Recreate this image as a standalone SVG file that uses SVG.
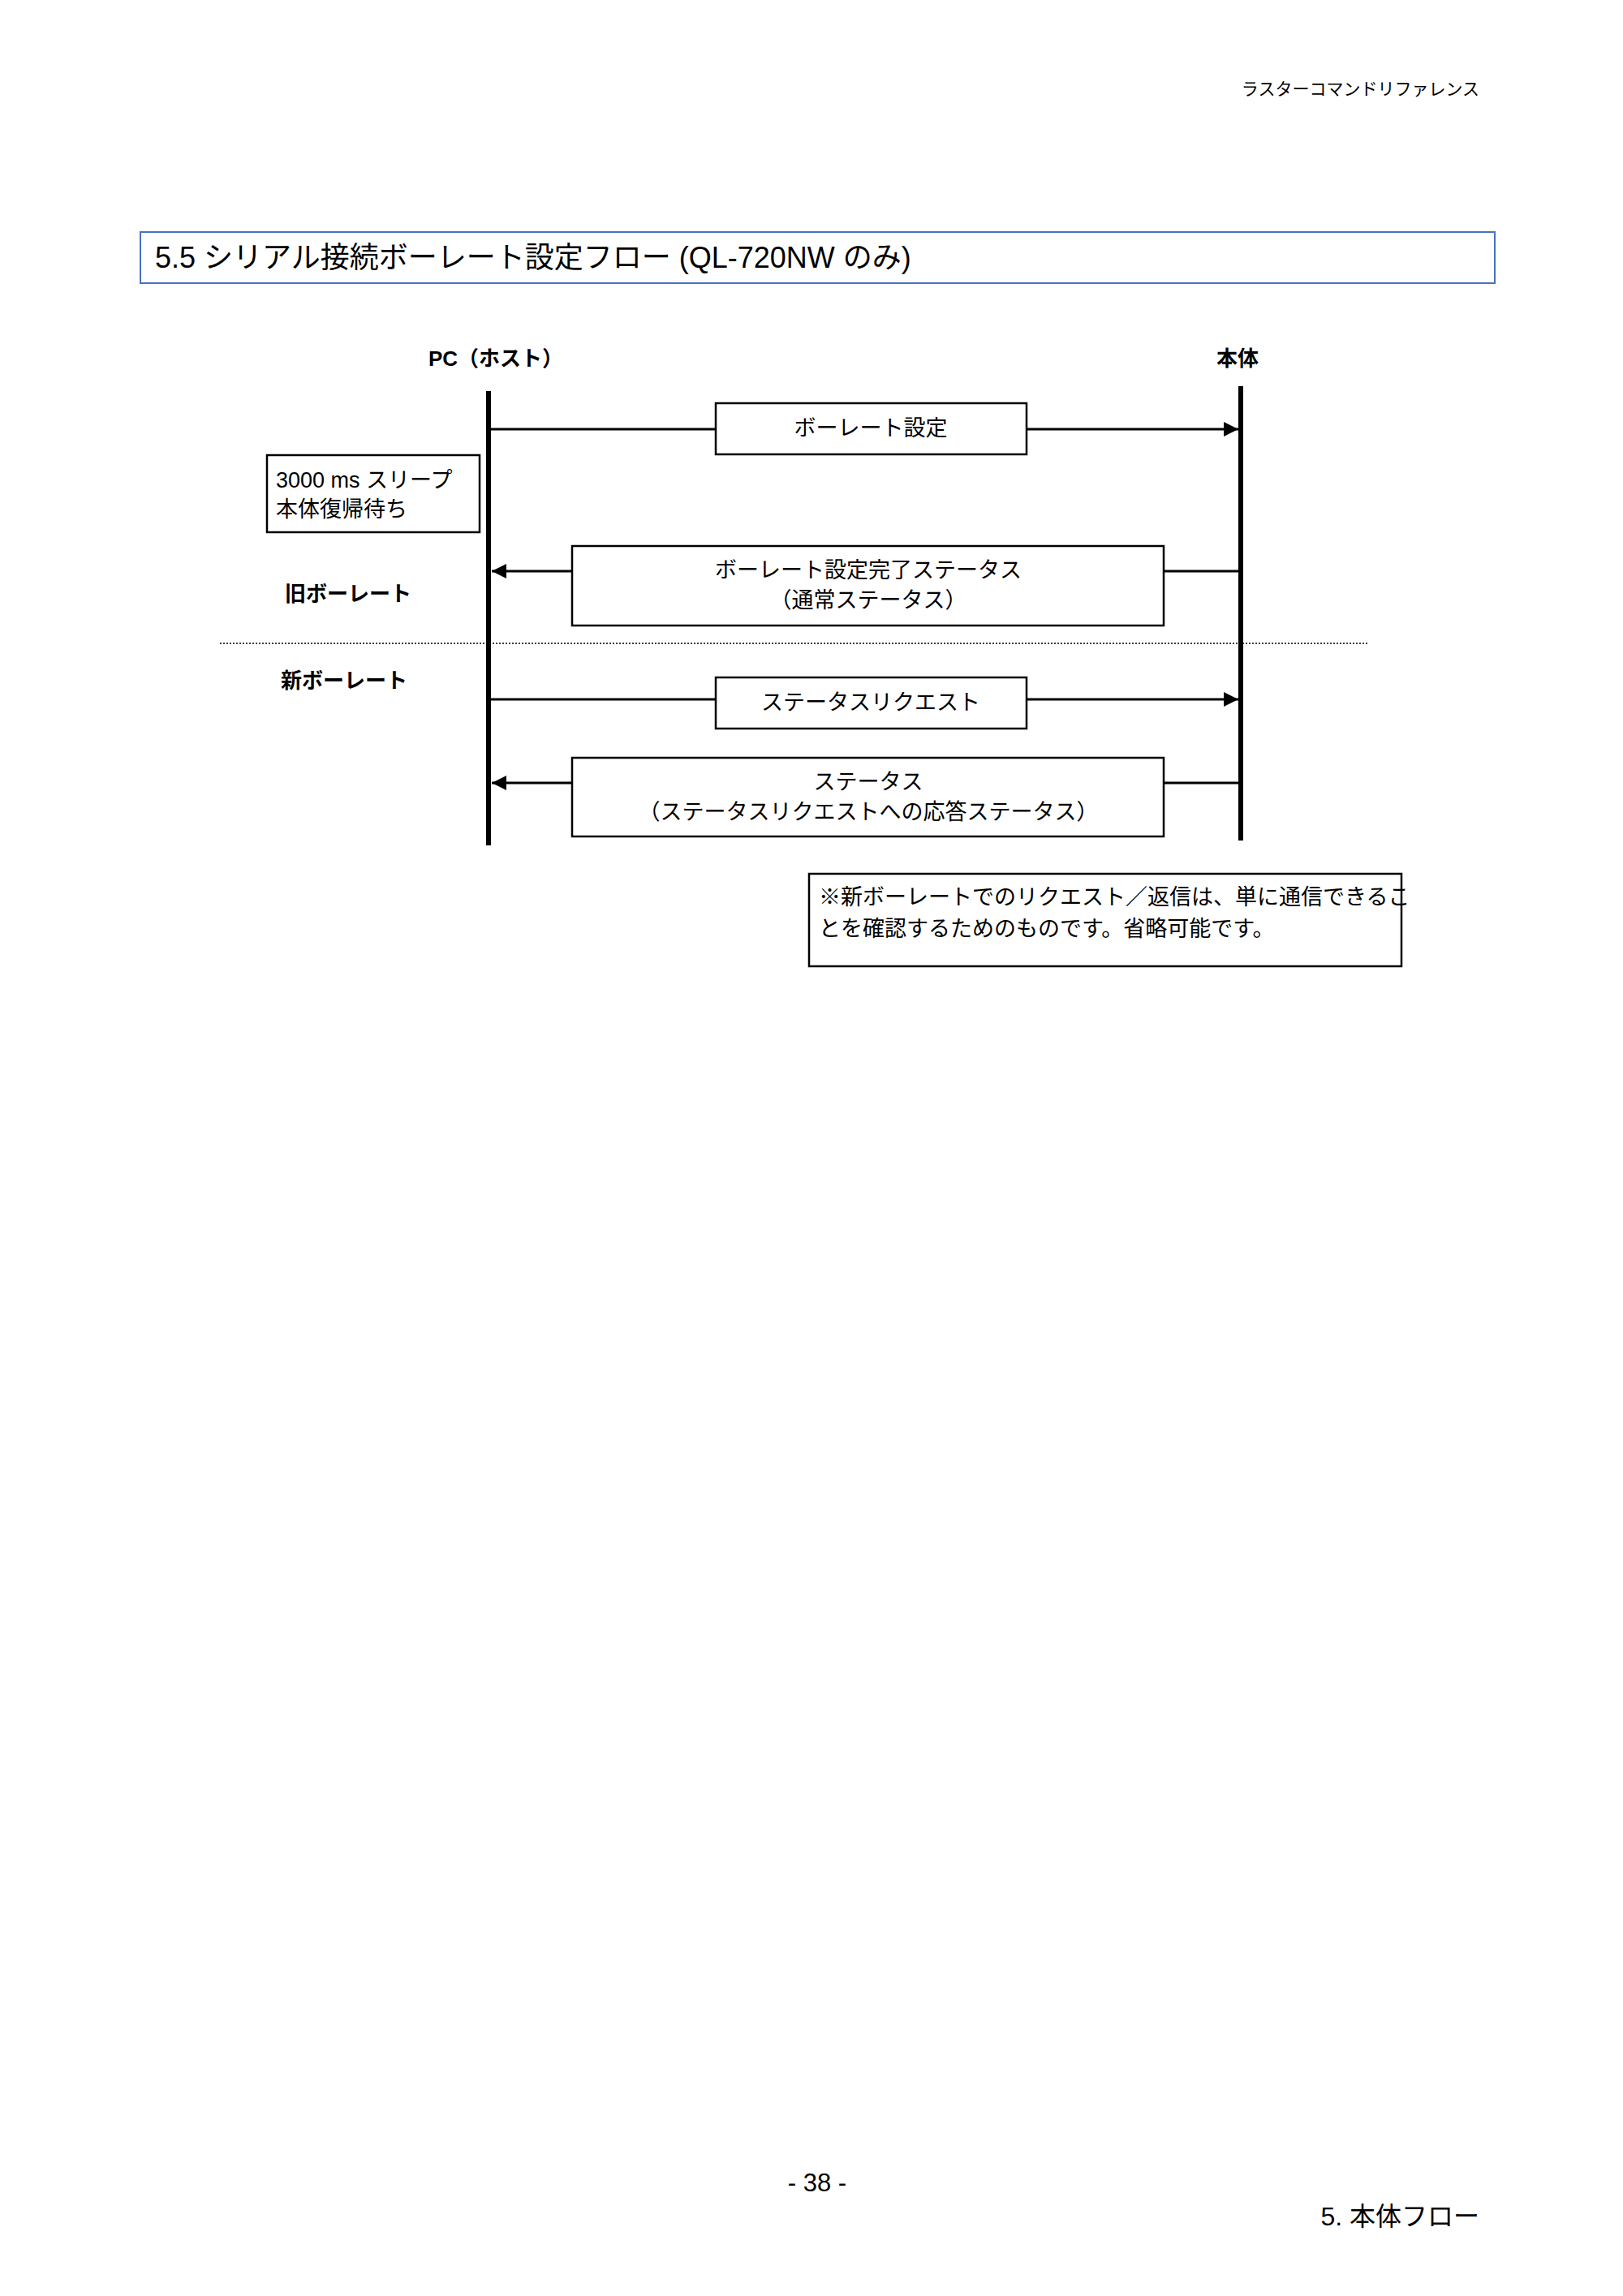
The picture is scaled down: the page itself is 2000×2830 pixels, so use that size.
<svg xmlns="http://www.w3.org/2000/svg" width="2000" height="2830" viewBox="0 0 2000 2830">
<style>
text{font-family:"Liberation Sans","Noto Sans CJK JP",sans-serif;fill:#000}
.b{font-weight:bold;font-size:26px;text-anchor:middle}
.t{font-size:27px}
.c{text-anchor:middle}
.box{fill:#fff;stroke:#000;stroke-width:2.5}
.life{stroke:#000;stroke-width:6}
.msg{stroke:#000;stroke-width:3;fill:none}
</style>
<defs>
<marker id="ah" viewBox="0 0 10 10" refX="10" refY="5" markerWidth="6" markerHeight="6" orient="auto" markerUnits="strokeWidth"><path d="M0,0L10,5L0,10z" fill="#000"/></marker>
</defs>
<rect width="2000" height="2830" fill="#fff"/>
<text x="1823" y="117" font-size="21" text-anchor="end">ラスターコマンドリファレンス</text>
<g id="title"><rect x="173" y="286" width="1669" height="63" fill="#fff" stroke="#4472c4" stroke-width="2"/>
<text x="191" y="330" font-size="36">5.5 シリアル接続ボーレート設定フロー (QL-720NW のみ)</text></g>
<g id="pc"><text class="b" x="611" y="451">PC（ホスト）</text><line class="life" x1="602" y1="482" x2="602" y2="1042"/></g>
<g id="body"><text class="b" x="1525" y="451">本体</text><line class="life" x1="1529" y1="476" x2="1529" y2="1036"/></g>
<g id="connectors">
<line class="msg" x1="602" y1="529" x2="1526" y2="529" marker-end="url(#ah)"/>
<line class="msg" x1="1529" y1="704" x2="606" y2="704" marker-end="url(#ah)"/>
<line class="msg" x1="602" y1="862" x2="1526" y2="862" marker-end="url(#ah)"/>
<line class="msg" x1="1529" y1="965" x2="606" y2="965" marker-end="url(#ah)"/>
<line x1="271" y1="793" x2="1685" y2="793" stroke="#000" stroke-width="1.5" stroke-dasharray="2,2"/>
</g>
<g id="m1"><rect class="box" x="882" y="497" width="383" height="63"/><text class="t c" x="1073" y="537">ボーレート設定</text></g>
<g id="sleep"><rect class="box" x="329" y="561" width="262" height="95"/><text class="t" x="340" y="601">3000 ms スリープ</text><text class="t" x="340" y="637">本体復帰待ち</text></g>
<g id="m2"><rect class="box" x="705" y="673" width="729" height="98"/><text class="t c" x="1070" y="712">ボーレート設定完了ステータス</text><text class="t c" x="1070" y="749">（通常ステータス）</text></g>
<g id="old"><text class="b" x="429" y="741">旧ボーレート</text></g>
<g id="new"><text class="b" x="424" y="848">新ボーレート</text></g>
<g id="m3"><rect class="box" x="882" y="835" width="383" height="63"/><text class="t c" x="1073" y="875">ステータスリクエスト</text></g>
<g id="m4"><rect class="box" x="705" y="934" width="729" height="97"/><text class="t c" x="1070" y="973">ステータス</text><text class="t c" x="1070" y="1010">（ステータスリクエストへの応答ステータス）</text></g>
<g id="note"><rect class="box" x="997" y="1077" width="730" height="114"/><text class="t" x="1009" y="1115">※新ボーレートでのリクエスト／返信は、単に通信できるこ</text><text class="t" x="1009" y="1154">とを確認するためのものです。省略可能です。</text></g>
<text x="1007" y="2701" font-size="31" text-anchor="middle">- 38 -</text>
<text x="1823" y="2743" font-size="32" text-anchor="end">5.  本体フロー</text>
</svg>
